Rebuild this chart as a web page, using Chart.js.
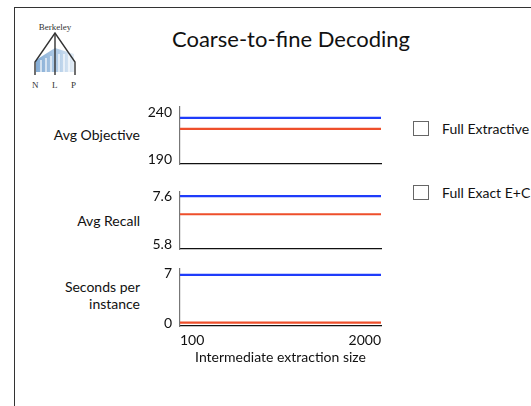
<!DOCTYPE html>
<html>
<head>
<meta charset="utf-8">
<script src="https://cdn.jsdelivr.net/npm/chart.js@4.4.0/dist/chart.umd.min.js"></script>
<style>
  body { margin: 0; background: #fff; width: 531px; height: 406px; overflow: hidden; position: relative; font-family: Lato, "Open Sans", sans-serif; color: #111; }
  .slide { position: absolute; left: 14px; top: 7px; width: 600px; height: 500px; border-left: 1.5px solid #333; border-top: 1.5px solid #333; }
  .title { position: absolute; left: 150px; top: 25px; width: 282px; text-align: center; font-size: 22px; }
  .ylab { position: absolute; right: 391px; text-align: right; font-size: 14px; line-height: 17px; }
  .cv { position: absolute; }
  .leg { position: absolute; left: 413px; font-size: 14px; white-space: nowrap; }
  .leg span.box { display: inline-block; width: 14px; height: 13px; border: 1.5px solid #666; vertical-align: middle; margin-right: 13px; }
  .leg span.t { vertical-align: middle; }
</style>
</head>
<body>
<div class="slide"></div>

<!-- Berkeley NLP logo -->
<svg style="position:absolute;left:28px;top:20px" width="54" height="72" viewBox="0 0 54 72">
  <text x="27" y="10" text-anchor="middle" font-family="'Liberation Serif', serif" font-size="9" fill="#333">Berkeley</text>
  <defs>
    <linearGradient id="g" x1="0" y1="0" x2="1" y2="0">
      <stop offset="0" stop-color="#6d9ccc"/>
      <stop offset="0.6" stop-color="#a8c6e4"/>
      <stop offset="1" stop-color="#dfeaf5"/>
    </linearGradient>
  </defs>
  <polygon points="8,40 27,28 46,34 46,52 8,52" fill="url(#g)" opacity="0.85"/>
  <g stroke="#fff" stroke-width="1.2">
    <line x1="13" y1="40" x2="13" y2="52"/><line x1="18" y1="38" x2="18" y2="52"/>
    <line x1="23" y1="36" x2="23" y2="52"/><line x1="31" y1="34" x2="31" y2="52"/>
    <line x1="36" y1="34" x2="36" y2="52"/><line x1="41" y1="34" x2="41" y2="52"/>
  </g>
  <g stroke="#333" stroke-width="1.4" fill="none">
    <polyline points="7,55 7,42 27,13 47,42 47,55"/>
    <line x1="27" y1="13" x2="27" y2="55"/>
  </g>
  <text font-family="'Liberation Serif', serif" font-size="9" fill="#333">
    <tspan x="4" y="68">N</tspan><tspan x="24" y="68">L</tspan><tspan x="43" y="68">P</tspan>
  </text>
</svg>

<div class="title">Coarse-to-fine Decoding</div>

<div class="ylab" style="top:126px">Avg Objective</div>
<div class="ylab" style="top:212px">Avg Recall</div>
<div class="ylab" style="top:278px">Seconds per<br>instance</div>

<div class="leg" style="top:118px"><span class="box"></span><span class="t">Full Extractive</span></div>
<div class="leg" style="top:182px"><span class="box"></span><span class="t">Full Exact E+C</span></div>

<canvas id="c1" class="cv" style="left:120px;top:100px" width="270" height="70"></canvas>
<canvas id="c2" class="cv" style="left:120px;top:185px" width="270" height="70"></canvas>
<canvas id="c3" class="cv" style="left:120px;top:262px" width="270" height="104"></canvas>

<script>
// x positions (intermediate extraction size)
const sizes = [100, 2000];

// series: Full Extractive (blue), Full Exact E+C (red)
const objExtractive = [233.8, 233.8];
const objExactEC = [222.3, 222.3];
const recallExtractive = [7.6, 7.6];
const recallExactEC = [6.93, 6.93];
const secsExtractive = [6.86, 6.86];
const secsExactEC = [0.05, 0.05];

// tick labels shown on each y axis
const objTicks = [190, 240];
const recallTicks = [5.8, 7.6];
const secsTicks = [0, 7];

const BLUE = '#1f3cfa';
const RED = '#ee4f2b';
const FONT = { family: 'Lato', size: 14 };

function makePanel(id, blue, red, yTicks, yMin, yMax, showX) {
    const data = {
        datasets: [
            {
                label: 'Full Extractive',
                data: sizes.map((s, i) => ({ x: s, y: blue[i] })),
                borderColor: BLUE,
                borderWidth: 2.2,
                pointRadius: 0
            },
            {
                label: 'Full Exact E+C',
                data: sizes.map((s, i) => ({ x: s, y: red[i] })),
                borderColor: RED,
                borderWidth: 2.2,
                pointRadius: 0
            }
        ]
    };
    return new Chart(document.getElementById(id), {
        type: 'line',
        data: data,
        options: {
            responsive: false,
            animation: false,
            layout: { padding: { top: 7, right: 9, bottom: showX ? 0 : 6, left: 0 } },
            plugins: { legend: { display: false }, tooltip: { enabled: false } },
            scales: {
                x: {
                    type: 'linear',
                    min: sizes[0],
                    max: sizes[1],
                    afterBuildTicks: (s) => { s.ticks = sizes.map(v => ({ value: v })); },
                    afterFit: (s) => {
                        s.height = showX ? 40 : 0;
                        s.paddingLeft = 0; s.paddingRight = 0;
                    },
                    grid: { display: false, drawTicks: false },
                    border: { color: '#111', width: 1.2 },
                    ticks: {
                        display: showX, align: 'inner', padding: 6, color: '#111', font: FONT, maxRotation: 0,
                        callback: (v) => String(v)
                    },
                    title: {
                        display: showX,
                        text: 'Intermediate extraction size',
                        color: '#111',
                        font: FONT,
                        padding: 0
                    }
                },
                y: {
                    min: yMin,
                    max: yMax,
                    afterBuildTicks: (s) => { s.ticks = yTicks.map(v => ({ value: v })); },
                    afterFit: (s) => {
                        s.width = 60;
                        s.paddingTop = 0; s.paddingBottom = 0;
                    },
                    grid: { display: false, drawTicks: false },
                    border: { color: '#777', width: 1.2 },
                    ticks: { padding: 8, color: '#111', font: FONT }
                }
            }
        }
    });
}

const chart1 = makePanel('c1', objExtractive, objExactEC, objTicks, 185.8, 245.2, false);
const chart2 = makePanel('c2', recallExtractive, recallExactEC, recallTicks, 5.65, 7.75, false);
const chart3 = makePanel('c3', secsExtractive, secsExactEC, secsTicks, -0.43, 7.71, true);
</script>
</body>
</html>
